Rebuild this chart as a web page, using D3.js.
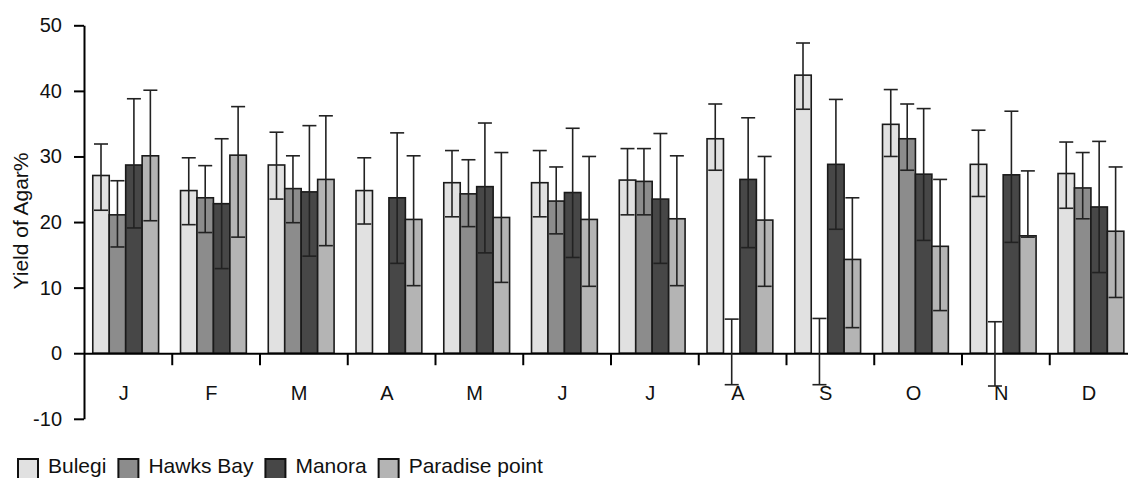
<!DOCTYPE html>
<html>
<head>
<meta charset="utf-8">
<script src="https://cdn.jsdelivr.net/npm/d3@7"></script>
<style>
  body { margin: 0; background: #fff; }
  svg text { font-family: "Liberation Sans", Arial, sans-serif; fill: #111; }
</style>
</head>
<body>
<div id="chartDiv"></div>
<script>
// ---- data ----
const months = ["J", "F", "M", "A", "M", "J", "J", "A", "S", "O", "N", "D"];
const seriesNames = ["Bulegi", "Hawks Bay", "Manora", "Paradise point"];
const yTicks = [-10, 0, 10, 20, 30, 40, 50];

// mean yield of agar (%)
const bulegi   = [27.1, 24.8, 28.7, 24.8, 26.0, 26.0, 26.4, 32.7, 42.4, 34.9, 28.8, 27.4];
const hawksBay = [21.1, 23.7, 25.1, 0,    24.3, 23.2, 26.2, 0,    0,    32.7, 0,    25.2];
const manora   = [28.7, 22.8, 24.6, 23.7, 25.4, 24.5, 23.5, 26.5, 28.8, 27.3, 27.2, 22.3];
const paradise = [30.1, 30.2, 26.5, 20.4, 20.7, 20.4, 20.5, 20.3, 14.3, 16.3, 17.9, 18.6];

// error bar top / bottom ends (null = no error bar)
const bulegiHi   = [31.9, 29.8, 33.7, 29.8, 30.9, 30.9, 31.2, 38.0, 47.3, 40.2, 34.0, 32.2];
const bulegiLo   = [21.8, 19.6, 23.5, 19.7, 20.8, 20.8, 21.1, 27.9, 37.2, 30.0, 23.9, 22.1];
const hawksBayHi = [26.3, 28.6, 30.1, null, 29.5, 28.4, 31.2, 5.2, 5.3, 38.0, 4.8, 30.6];
const hawksBayLo = [16.2, 18.4, 19.9, null, 19.3, 18.2, 21.1, -4.8, -4.8, 27.9, -5.0, 20.5];
const manoraHi   = [38.8, 32.7, 34.7, 33.6, 35.1, 34.3, 33.5, 35.9, 38.7, 37.3, 36.9, 32.3];
const manoraLo   = [19.1, 12.9, 14.8, 13.7, 15.3, 14.6, 13.7, 16.1, 18.9, 17.2, 16.9, 12.3];
const paradiseHi = [40.1, 37.6, 36.2, 30.1, 30.6, 30.0, 30.1, 30.0, 23.7, 26.5, 27.8, 28.4];
const paradiseLo = [20.2, 17.7, 16.4, 10.3, 10.8, 10.2, 10.3, 10.2, 3.9, 6.5, 17.7, 8.5];

const barColors = ["#e1e1e1", "#8c8c8c", "#474747", "#b4b4b4"];

/* * * * * * * * * * * * * *
 *      GroupedBarChart     *
 * * * * * * * * * * * * * */

class GroupedBarChart {
  constructor(parentElement, data) {
    this.parentElement = parentElement;
    this.data = data;
    this.initVis();
  }

  initVis() {
    let vis = this;

    vis.width = 1128;
    vis.height = 478;

    vis.svg = d3
      .select("#" + vis.parentElement)
      .append("svg")
      .attr("width", vis.width)
      .attr("height", vis.height);

    // scales
    vis.y = d3.scaleLinear().domain([-10, 50]).range([418.8, 25.3]);

    // category edges (the chart runs past the right border)
    vis.xEdge = d3.scaleLinear().domain([0, months.length]).range([84, 1137]);

    vis.x = d3
      .scaleBand()
      .domain(d3.range(months.length))
      .range(vis.xEdge.range())
      .paddingInner(0.25)
      .paddingOuter(0.125)
      .align(0.4);

    vis.xSub = d3
      .scaleBand()
      .domain(seriesNames)
      .range([0, vis.x.bandwidth()]);

    vis.barLayer = vis.svg.append("g").attr("class", "bars");
    vis.axisLayer = vis.svg.append("g").attr("class", "axes");
    vis.errLayer = vis.svg.append("g").attr("class", "error-bars");
    vis.legendLayer = vis.svg.append("g").attr("class", "legend");

    vis.updateVis();
  }

  updateVis() {
    let vis = this;
    let y0 = vis.y(0);

    // bars
    vis.data.forEach((s, si) => {
      vis.barLayer
        .selectAll(".bar-" + si)
        .data(s.values)
        .enter()
        .append("rect")
        .attr("class", "bar-" + si)
        .attr("x", (d, i) => vis.x(i) + vis.xSub(s.name))
        .attr("y", (d) => vis.y(Math.max(0, d)))
        .attr("width", vis.xSub.bandwidth())
        .attr("height", (d) => Math.abs(vis.y(d) - y0))
        .attr("fill", barColors[si])
        .attr("stroke", "#1a1a1a")
        .attr("stroke-width", 1.6);
    });

    // y axis (plain hyphen for the minus sign, as in the original)
    vis.axisLayer
      .append("g")
      .attr("transform", "translate(" + vis.xEdge(0) + ",0)")
      .call(
        d3
          .axisLeft(vis.y)
          .tickValues(yTicks)
          .tickSize(10)
          .tickSizeOuter(0)
          .tickPadding(12)
          .tickFormat((d) => String(d))
      )
      .call((g) => g.selectAll("text").style("font-size", "20px").attr("fill", "#111"));

    // x axis line + category separators
    vis.axisLayer
      .append("g")
      .attr("transform", "translate(0," + y0 + ")")
      .call(
        d3
          .axisBottom(vis.xEdge)
          .tickValues(d3.range(1, months.length + 1))
          .tickSize(12)
          .tickSizeOuter(0)
          .tickFormat("")
      );

    vis.axisLayer.selectAll("path, line").attr("stroke", "#000").attr("stroke-width", 2);

    vis.axisLayer
      .selectAll(".month")
      .data(months)
      .enter()
      .append("text")
      .attr("class", "month")
      .attr("x", (d, i) => vis.x(i) + vis.x.bandwidth() / 2 - 2)
      .attr("y", 400)
      .attr("text-anchor", "middle")
      .style("font-size", "20px")
      .text((d) => d);

    // y title
    vis.axisLayer
      .append("text")
      .attr("transform", "translate(28,221) rotate(-90)")
      .attr("text-anchor", "middle")
      .style("font-size", "21px")
      .text("Yield of Agar%");

    // error bars
    let capHalf = 7;
    vis.data.forEach((s, si) => {
      let pts = s.values
        .map((v, i) => ({ i: i, hi: s.hi[i], lo: s.lo[i] }))
        .filter((d) => d.hi !== null);
      let cx = (d) => vis.x(d.i) + vis.xSub(s.name) + vis.xSub.bandwidth() / 2;

      let g = vis.errLayer
        .selectAll(".err-" + si)
        .data(pts)
        .enter()
        .append("g")
        .attr("class", "err-" + si)
        .attr("stroke", "#222")
        .attr("stroke-width", 1.6);

      g.append("line")
        .attr("x1", cx).attr("x2", cx)
        .attr("y1", (d) => vis.y(d.hi))
        .attr("y2", (d) => vis.y(d.lo));
      g.append("line")
        .attr("x1", (d) => cx(d) - capHalf).attr("x2", (d) => cx(d) + capHalf)
        .attr("y1", (d) => vis.y(d.hi)).attr("y2", (d) => vis.y(d.hi));
      g.append("line")
        .attr("x1", (d) => cx(d) - capHalf).attr("x2", (d) => cx(d) + capHalf)
        .attr("y1", (d) => vis.y(d.lo)).attr("y2", (d) => vis.y(d.lo));
    });

    // legend (sits at the bottom border, squares run past it)
    let lx = 18;
    seriesNames.forEach((name, si) => {
      vis.legendLayer
        .append("rect")
        .attr("x", lx)
        .attr("y", 459)
        .attr("width", 20)
        .attr("height", 20)
        .attr("fill", barColors[si])
        .attr("stroke", "#111")
        .attr("stroke-width", 2);
      let t = vis.legendLayer
        .append("text")
        .attr("x", lx + 30)
        .attr("y", 473)
        .style("font-size", "21px")
        .text(name);
      lx = lx + 30 + t.node().getComputedTextLength() + 12;
    });
  }
}

let chartData = [
  { name: seriesNames[0], values: bulegi, hi: bulegiHi, lo: bulegiLo },
  { name: seriesNames[1], values: hawksBay, hi: hawksBayHi, lo: hawksBayLo },
  { name: seriesNames[2], values: manora, hi: manoraHi, lo: manoraLo },
  { name: seriesNames[3], values: paradise, hi: paradiseHi, lo: paradiseLo },
];

let agarChart = new GroupedBarChart("chartDiv", chartData);
</script>
</body>
</html>
